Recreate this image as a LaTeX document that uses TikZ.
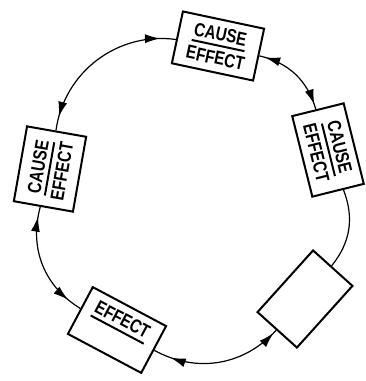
\documentclass[tikz,border=0pt]{standalone}
\usepackage{fontspec}
\usepackage{tikz}
\usetikzlibrary{arrows.meta,decorations.markings}
\newfontfamily\cardfamily{Liberation Sans}
\newcommand{\squeeze}[1]{\scalebox{0.8}[1]{#1}}
\newcommand{\cardtext}[2]{\squeeze{#1}\\[-16pt]\rule{54pt}{2pt}\\[-4pt]\squeeze{#2}}
\tikzset{
  card/.style={draw, line width=2pt, minimum width=83pt, minimum height=53pt,
    inner sep=0pt, align=center, font=\cardfamily\bfseries\fontsize{19}{22}\selectfont},
  link/.style={line width=1.2pt},
  twoway/.style 2 args={link, postaction={decorate}, decoration={markings,
      mark=at position #1 with {\arrowreversed{Latex[length=15pt,width=9pt]}},
      mark=at position -#2 with {\arrow{Latex[length=15pt,width=9pt]}}}}
}
\begin{document}
\begin{tikzpicture}[x=1pt,y=1pt]
  \useasboundingbox (-188,-185) rectangle (177,196);
  % cards round the loop
  \node[card, rotate=-12] (top) at (30,150) {\cardtext{CAUSE}{EFFECT}};
  \node[card, rotate=-76] (right) at (140,46) {\cardtext{CAUSE}{EFFECT}};
  \node[card, rotate=48] (blank) at (117,-103) {};
  \node[card, rotate=-28] (bottom) at (-71,-134) {\squeeze{EFFECT}\\[-16pt]\rule{60pt}{2pt}\\[-4pt]\phantom{\squeeze{EFFECT}}};
  \node[card, rotate=80, minimum width=76pt, minimum height=60pt] (left) at (-138,27) {\cardtext{CAUSE}{EFFECT}};
  % links
  \draw[twoway={14pt}{16pt}] (left) to[bend left=45] (top);
  \draw[twoway={6pt}{5pt}] (top) to[bend left=30] (right);
  \draw[link] (right) to[bend left=30] (blank);
  \draw[twoway={4pt}{18pt}] (blank) to[bend left=38] (bottom);
  \draw[twoway={15pt}{10pt}] (bottom) to[bend left=37] (left);
\end{tikzpicture}
\end{document}
